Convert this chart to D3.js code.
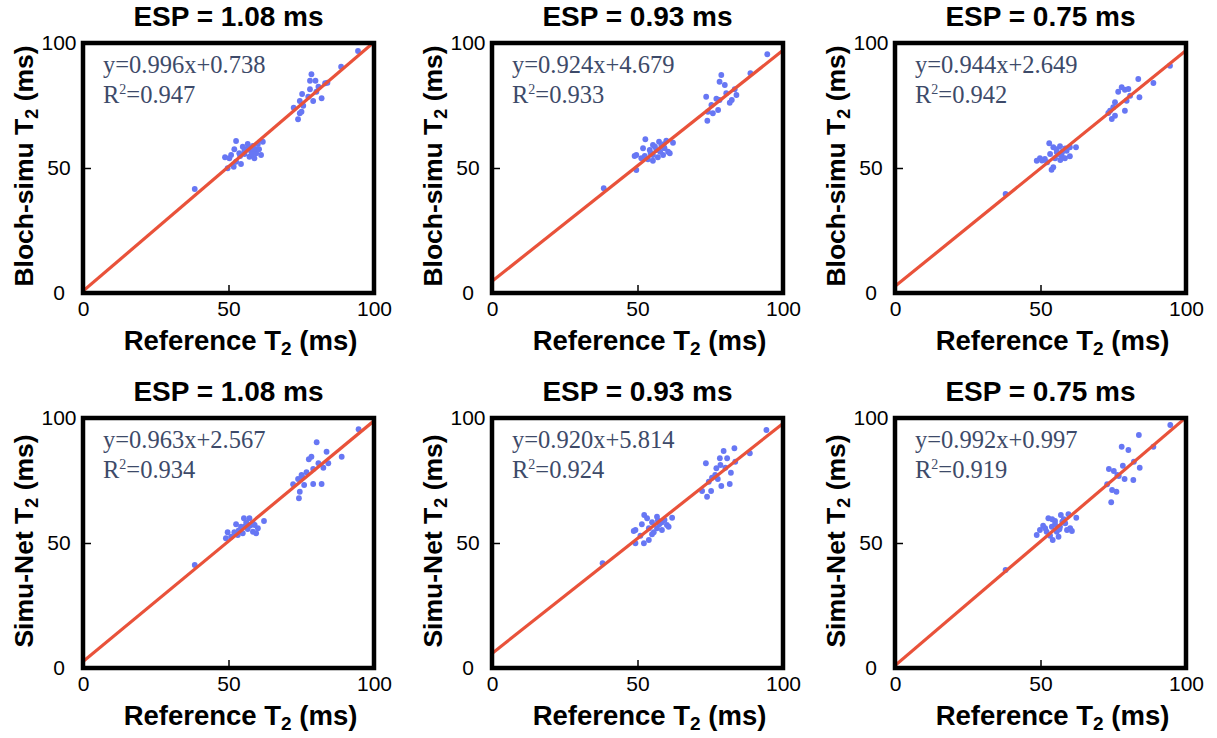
<!DOCTYPE html>
<html><head><meta charset="utf-8">
<script src="https://cdn.jsdelivr.net/npm/d3@7"></script>
<style>body{margin:0;background:#fff}</style>
</head><body><svg id="chart" width="1217" height="738"></svg>
<script>
// ---------- data ----------
const espTitles = ["ESP = 1.08 ms", "ESP = 0.93 ms", "ESP = 0.75 ms"];
const methodNames = ["Bloch-simu", "Simu-Net"];
const xLabel = "Reference";
const tickValues = [0, 50, 100];
const slopes = [[0.996, 0.924, 0.944], [0.963, 0.920, 0.992]];
const intercepts = [[0.738, 4.679, 2.649], [2.567, 5.814, 0.997]];
const rSquared = [[0.947, 0.933, 0.942], [0.934, 0.924, 0.919]];

// [reference T2, estimated T2]
const blochSimu108 = [[38.4,41.6],[94.5,96.8],[88.7,90.5],
 [78.5,87.5],[78,84.9],[79.9,84.9],[83.2,83.9],[84,84.1],[80.9,82.5],[78,81.5],[75.3,79.6],[80.2,80.5],[77.4,78.5],[74.5,76.8],[79.1,76.8],[82,77.9],[72.4,74.1],[75.7,74.9],[74.5,71.9],[73.9,69.5],[75.1,72.5],
 [52.6,60.8],[61.8,60.5],[60.1,59.6],[56.6,59.6],[58.4,58.8],[54.9,58.5],[52,57.5],[56,57.2],[57.8,56.5],[59.5,55.9],[53.7,55.9],[50.9,55.2],[48.8,54.3],[50.3,53.9],[57.2,54.5],[58.9,53.9],[61.2,55.2],[52.6,52.5],[54.3,51.6],[51.8,50.5],[49.7,49.9],[55.5,55.6],[56.6,57.9],[57,58.2],[59,57.6],[55.5,57],[58,55.5],[60.5,57.5],[54,54.8]];
const blochSimu093 = [[38.4,41.9],[94.6,95.5],[88.8,87.9],
 [78.8,87.2],[78.2,84.5],[80,83.2],[83.4,81.5],[80.5,79.9],[73.6,78.5],[77.1,77.7],[84,79.2],[82.4,77.2],[81.7,76.1],[75.4,75.2],[77.7,73.2],[74.2,72.5],[75.9,71.9],[74,68.9],[78.2,77.2],
 [52.7,61.5],[57.4,60.5],[59.9,60.9],[62.2,60.1],[55.3,59.2],[58.2,58.8],[51.9,57.9],[54.2,57.2],[56.5,57.2],[60.5,56.5],[49.6,55.2],[52.5,54.8],[55.3,55.2],[58.8,55.2],[61.1,55.9],[53.6,53.5],[51.3,53.9],[57,54.3],[55.3,52.9],[49,54.8],[49.6,49.2],[59.3,57.9],[56,58.5],[57.8,56.5],[54.5,56],[59,59.5]];
const blochSimu075 = [[38,39.6],[94.5,90.9],[88.8,84],[83.6,85.6],
 [77.9,82.3],[79,81.3],[80.2,81.6],[76.7,80.5],[80.8,78.9],[84,78.3],[79.6,76.9],[75.6,76.3],[75,74.3],[79,72.9],[73.9,72.9],[75.6,70.9],[74.5,69.6],[73.3,72],
 [53,59.9],[54.4,58.3],[56.7,58.7],[60.1,58.3],[62.2,58.3],[59,56.9],[55.6,56.3],[53.3,55.6],[57.3,54.9],[60.1,54.7],[49.8,53.9],[48.7,52.9],[51.5,53.6],[55,53.9],[58.4,53.9],[52.3,52.3],[54.4,50.3],[53.8,49.3],[56.1,55.6],[57.5,56.5],[55.5,57.5],[58.5,57.8],[50.5,53],[56.8,53.2]];
const simuNet108 = [[38.4,41.2],[94.7,95.5],[88.9,84.5],
 [80.3,90.3],[83.7,86.5],[78.5,84.5],[77.6,83.5],[80.9,81.9],[84.3,81.9],[82.6,80.1],[79.1,79.6],[76.8,78.3],[75.1,77.2],[73.9,75.6],[72.2,73.5],[76,73.2],[79.1,73.6],[82,73.6],[74.5,70.5],[74.2,67.9],[75.3,76.5],
 [55.3,59.9],[57.2,59.9],[52.6,57.5],[58.4,57.9],[62.2,58.8],[54.3,56.5],[60.1,55.9],[56.6,55.6],[49.7,54.3],[52,54.3],[58.4,54.5],[54.9,53.9],[53.2,53.2],[59.5,53.9],[49.1,51.9],[50.9,52.5],[56.1,58.3],[57.5,57],[55.8,56.8],[59,57.2],[53.5,55]];
const simuNet093 = [[38,41.9],[94.3,95.2],[88.6,85.9],
 [83.3,87.9],[79.6,86.8],[78.3,83.9],[80.8,83.9],[73.5,81.9],[78.5,81.2],[83.6,82.5],[80.2,80.1],[82.1,78.1],[76.7,77.2],[75.6,76.1],[77.6,75.6],[74.5,74.5],[78.8,72.8],[81.7,73.6],[72.2,70.8],[75.3,70.8],[73.9,68.5],[77.1,79.9],
 [52.3,61.2],[53.3,59.9],[56.7,60.5],[61.9,60.1],[51.5,57.5],[55,58.3],[58.4,58.3],[60.1,57.2],[49.3,55.2],[53.9,55.9],[56.7,55.9],[60.7,56.5],[48.7,54.8],[55.6,54.3],[58.4,55.2],[53.9,51.2],[52.2,49.9],[49.3,49.9],[51,52.9],[55,53.5],[57.5,57.5],[57,59],[59.3,59.2]];
const simuNet075 = [[38,39.2],[94.6,97.2],[88.8,88.5],
 [83.8,93.2],[77.9,88.5],[80.2,87.2],[82.1,82.5],[78.3,80.9],[84.1,80.1],[73.5,79.6],[75.2,78.8],[76.4,77.2],[78.9,75.6],[81.9,75.2],[72.9,73.5],[74.6,71.2],[76.1,70.5],[74.3,66.3],[76.9,76.8],
 [52.7,59.9],[57,61.2],[59.6,61.5],[62.3,60.1],[55,58.8],[58.5,57.9],[50.9,56.9],[53.9,56.5],[56.7,56.5],[60.2,55.9],[49.8,55.2],[52.1,54.5],[55.6,54.5],[59.1,55.2],[60.8,54.8],[48.7,53.2],[53.3,52.9],[56.2,52.5],[54.2,51.2],[51.6,55.9],[57.5,58.5],[55,57.5],[58,59.5],[56.5,55.5],[54,59.5]];

const datasets = [[blochSimu108, blochSimu093, blochSimu075], [simuNet108, simuNet093, simuNet075]];

// ---------- layout ----------
const colLeft = [83, 492, 895];
const rowTop = [43, 418];
const W = 291, H = 250;
const SANS = "'Liberation Sans', Arial, Helvetica, sans-serif";
const SERIF = "'Liberation Serif', 'Times New Roman', serif";
const POINT_COLOR = "#6777f4";
const LINE_COLOR = "#e9523a";
const EQ_COLOR = "#3d4a69";

const svg = d3.select("#chart");
const defs = svg.append("defs");

datasets.forEach((row, r) => {
  row.forEach((pts, c) => {
    const L = colLeft[c], T = rowTop[r];
    const x = d3.scaleLinear().domain([0, 100]).range([L, L + W]);
    const y = d3.scaleLinear().domain([0, 100]).range([T + H, T]);
    const id = `clip-${r}-${c}`;
    defs.append("clipPath").attr("id", id).append("rect")
      .attr("x", L).attr("y", T).attr("width", W).attr("height", H);
    const g = svg.append("g");

    // axes (inward ticks)
    const ya = g.append("g").attr("transform", `translate(${L},0)`)
      .call(d3.axisLeft(y).tickValues(tickValues).tickSize(-8).tickPadding(6));
    const xa = g.append("g").attr("transform", `translate(0,${T + H})`)
      .call(d3.axisBottom(x).tickValues(tickValues).tickSize(-8).tickPadding(8));
    [ya, xa].forEach(a => {
      a.select(".domain").remove();
      a.attr("font-family", SANS).attr("font-size", 21);
      a.selectAll("line").attr("stroke", "#000").attr("stroke-width", 1.5);
      a.selectAll("text").attr("fill", "#000");
    });
    ya.selectAll("text").attr("text-anchor", "middle").attr("x", -24);

    // points
    g.append("g").attr("clip-path", `url(#${id})`)
      .selectAll("circle").data(pts).join("circle")
      .attr("cx", d => x(d[0])).attr("cy", d => y(d[1]))
      .attr("r", 2.9).attr("fill", POINT_COLOR);

    // regression line
    const m = slopes[r][c], b = intercepts[r][c];
    const lineData = [0, 100].map(v => [v, m * v + b]);
    g.append("path")
      .attr("clip-path", `url(#${id})`)
      .attr("d", d3.line().x(d => x(d[0])).y(d => y(d[1]))(lineData))
      .attr("fill", "none").attr("stroke", LINE_COLOR).attr("stroke-width", 3.2);

    // frame
    g.append("rect").attr("x", L).attr("y", T).attr("width", W).attr("height", H)
      .attr("fill", "none").attr("stroke", "#000").attr("stroke-width", 4.5);

    // equation text
    g.append("text").attr("x", L + 20).attr("y", T + 30)
      .attr("font-family", SERIF).attr("font-size", 24.5).attr("fill", EQ_COLOR)
      .text(`y=${m.toFixed(3)}x+${b.toFixed(3)}`);
    const rt = g.append("text").attr("x", L + 20).attr("y", T + 60)
      .attr("font-family", SERIF).attr("font-size", 24.5).attr("fill", EQ_COLOR);
    rt.append("tspan").text("R");
    rt.append("tspan").attr("font-size", 14).attr("dy", -9).text("2");
    rt.append("tspan").attr("dy", 9).text(`=${rSquared[r][c].toFixed(3)}`);

    // title
    g.append("text").attr("x", L + W / 2).attr("y", T - 17)
      .attr("text-anchor", "middle").attr("font-family", SANS)
      .attr("font-weight", "bold").attr("font-size", 28).text(espTitles[c]);

    // y label
    const yl = g.append("text")
      .attr("transform", `translate(${L - 50},${T + H / 2 - 2}) rotate(-90)`)
      .attr("text-anchor", "middle").attr("font-family", SANS)
      .attr("font-weight", "bold").attr("font-size", 26.5);
    yl.append("tspan").text(`${methodNames[r]} T`);
    yl.append("tspan").attr("font-size", 18).attr("dy", 5).text("2");
    yl.append("tspan").attr("dy", -5).text(" (ms)");

    // x label
    const xl = g.append("text")
      .attr("x", L + W / 2 + 12).attr("y", T + H + 57)
      .attr("text-anchor", "middle").attr("font-family", SANS)
      .attr("font-weight", "bold").attr("font-size", 27.5);
    xl.append("tspan").text(`${xLabel} T`);
    xl.append("tspan").attr("font-size", 19).attr("dy", 5).text("2");
    xl.append("tspan").attr("dy", -5).text(" (ms)");
  });
});
</script></body></html>
